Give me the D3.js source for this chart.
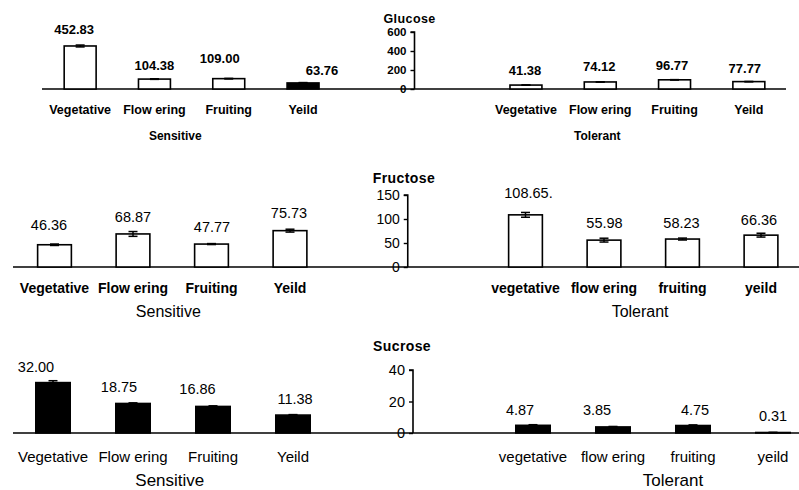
<!DOCTYPE html>
<html>
<head>
<meta charset="utf-8">
<script src="https://cdn.jsdelivr.net/npm/d3@7"></script>
<style>
  html, body { margin: 0; padding: 0; background: #fff; }
  svg { display: block; font-family: "Liberation Sans", Arial, sans-serif; }
</style>
</head>
<body>
<svg id="chart" width="799" height="490"></svg>
<script>
// ---- Data -------------------------------------------------------------
const stagesSensitive = ["Vegetative", "Flow ering", "Fruiting", "Yeild"];
const stagesTolerantCap = ["Vegetative", "Flow ering", "Fruiting", "Yeild"];
const stagesTolerantLow = ["vegetative", "flow ering", "fruiting", "yeild"];
const groupNames = ["Sensitive", "Tolerant"];

const glucoseSensitive = [452.83, 104.38, 109.00, 63.76];
const glucoseSensitiveErr = [10, 3, 3, 4];
const glucoseTolerant = [41.38, 74.12, 96.77, 77.77];
const glucoseTolerantErr = [2, 2, 2, 2];
const glucoseTicks = [0, 200, 400, 600];

const fructoseSensitive = [46.36, 68.87, 47.77, 75.73];
const fructoseSensitiveErr = [1.5, 5, 1, 3];
const fructoseTolerant = [108.65, 55.98, 58.23, 66.36];
const fructoseTolerantErr = [5, 4, 2, 4];
const fructoseTolerantSuffix = [".", "", "", ""];
const fructoseTicks = [0, 50, 100, 150];

const sucroseSensitive = [32.00, 18.75, 16.86, 11.38];
const sucroseSensitiveErr = [1.2, 0.4, 0.4, 0.3];
const sucroseTolerant = [4.87, 3.85, 4.75, 0.31];
const sucroseTolerantErr = [0.4, 0.3, 0.4, 0.1];
const sucroseTicks = [0, 20, 40];

// ---- Panel layout -----------------------------------------------------
const svg = d3.select("#chart");
const fmt = d3.format(".2f");

const panels = [
  {
    title: "Glucose", ticks: glucoseTicks,
    sens: glucoseSensitive, sensErr: glucoseSensitiveErr, sensFill: ["#fff", "#fff", "#fff", "#000"],
    tol: glucoseTolerant, tolErr: glucoseTolerantErr, tolFill: ["#fff", "#fff", "#fff", "#fff"],
    tolCats: stagesTolerantCap, tolSuffix: ["", "", "", ""],
    x0: 43, step: 74.3, yBase: 89, yTop: 32, lineStart: 42, lineEnd: 786,
    titleY: 18, titleDx: -31, catY: 109, groupY: 136, groupAt: [1.78, 7.46],
    catFont: "bold 12.5px", valFont: "bold 13px", groupFont: "bold 12px", titleFont: "bold 12.5px", tickFont: "bold 11.5px",
    sensNudge: [[-6, -16.7], [0, -13.4], [-9, -20.3], [19, -12.9]],
    tolNudge: [[-1, -14.4], [-1, -15.3], [-2.5, -14.8], [-4, -13.3]]
  },
  {
    title: "Fructose", ticks: fructoseTicks,
    sens: fructoseSensitive, sensErr: fructoseSensitiveErr, sensFill: ["#fff", "#fff", "#fff", "#fff"],
    tol: fructoseTolerant, tolErr: fructoseTolerantErr, tolFill: ["#fff", "#fff", "#fff", "#fff"],
    tolCats: stagesTolerantLow, tolSuffix: fructoseTolerantSuffix,
    x0: 15.25, step: 78.5, yBase: 267, yTop: 195, lineStart: 13, lineEnd: 799,
    titleY: 178, titleDx: -35, catY: 288, groupY: 311, groupAt: [1.95, 7.96],
    catFont: "bold 14px", valFont: "14.5px", groupFont: "16px", titleFont: "bold 14px", tickFont: "14px",
    sensNudge: [[-5.5, -19.7], [0, -17], [0.5, -17], [-1, -17.6]],
    tolNudge: [[3, -21.8], [0.5, -17.4], [-1, -16], [-2, -15]]
  },
  {
    title: "Sucrose", ticks: sucroseTicks,
    sens: sucroseSensitive, sensErr: sucroseSensitiveErr, sensFill: ["#000", "#000", "#000", "#000"],
    tol: sucroseTolerant, tolErr: sucroseTolerantErr, tolFill: ["#000", "#000", "#000", "#000"],
    tolCats: stagesTolerantLow, tolSuffix: ["", "", "", ""],
    x0: 13, step: 80, yBase: 433, yTop: 370, lineStart: 13, lineEnd: 799,
    titleY: 346, titleDx: -40, catY: 457, groupY: 480, groupAt: [1.96, 8.25],
    catFont: "15px", valFont: "14.5px", groupFont: "17px", titleFont: "bold 14px", tickFont: "14.5px",
    sensNudge: [[-17, -16], [-14, -16.8], [-15.5, -17.4], [2, -16]],
    tolNudge: [[-13, -15.3], [-16, -17], [2, -15.5], [0, -16.8]]
  }
];

function fontAttrs(sel, spec) {
  const parts = spec.split(" ");
  const size = parts.pop();
  sel.style("font-size", size).style("font-weight", parts.length ? parts[0] : "normal");
  return sel;
}

panels.forEach(p => {
  const g = svg.append("g").attr("class", "panel");
  const slots = d3.range(10);
  const x = d3.scaleBand().domain(slots).range([p.x0, p.x0 + 10 * p.step]).paddingInner(0.57).paddingOuter(0.285);
  const xc = i => x(i) + x.bandwidth() / 2;
  const y = d3.scaleLinear().domain([0, d3.max(p.ticks)]).range([p.yBase, p.yTop]);
  const axisX = p.x0 + 5 * p.step;

  // category baseline
  g.append("line")
    .attr("x1", p.lineStart).attr("x2", p.lineEnd)
    .attr("y1", y(0)).attr("y2", y(0))
    .attr("stroke", "#000").attr("stroke-width", 1.6);

  const series = [
    { vals: p.sens, err: p.sensErr, fill: p.sensFill, offset: 0, nudge: p.sensNudge, cats: stagesSensitive, suffix: ["", "", "", ""] },
    { vals: p.tol, err: p.tolErr, fill: p.tolFill, offset: 6, nudge: p.tolNudge, cats: p.tolCats, suffix: p.tolSuffix }
  ];

  series.forEach(s => {
    const items = s.vals.map((v, i) => ({ v, e: s.err[i], fill: s.fill[i], slot: s.offset + i, nudge: s.nudge[i], cat: s.cats[i], suffix: s.suffix[i] }));

    g.selectAll(null).data(items).enter().append("rect")
      .attr("x", d => x(d.slot))
      .attr("width", x.bandwidth())
      .attr("y", d => y(d.v))
      .attr("height", d => y(0) - y(d.v))
      .attr("fill", d => d.fill)
      .attr("stroke", "#000").attr("stroke-width", 1.6);

    // error bars
    const eb = g.selectAll(null).data(items).enter().append("g").attr("stroke", "#000").attr("stroke-width", 1.5);
    eb.append("line")
      .attr("x1", d => xc(d.slot)).attr("x2", d => xc(d.slot))
      .attr("y1", d => y(d.v - d.e)).attr("y2", d => y(d.v + d.e));
    eb.append("line")
      .attr("x1", d => xc(d.slot) - 4.5).attr("x2", d => xc(d.slot) + 4.5)
      .attr("y1", d => y(d.v + d.e)).attr("y2", d => y(d.v + d.e));
    eb.append("line")
      .attr("x1", d => xc(d.slot) - 4.5).attr("x2", d => xc(d.slot) + 4.5)
      .attr("y1", d => y(d.v - d.e)).attr("y2", d => y(d.v - d.e));

    // value labels
    fontAttrs(g.selectAll(null).data(items).enter().append("text")
      .attr("x", d => xc(d.slot) + d.nudge[0])
      .attr("y", d => y(d.v) + d.nudge[1])
      .attr("dy", "0.36em")
      .attr("text-anchor", "middle")
      .attr("fill", "#000")
      .text(d => fmt(d.v) + d.suffix), p.valFont);

    // stage labels
    fontAttrs(g.selectAll(null).data(items).enter().append("text")
      .attr("x", d => xc(d.slot))
      .attr("y", p.catY)
      .attr("dy", "0.36em")
      .attr("text-anchor", "middle")
      .attr("fill", "#000")
      .text(d => d.cat), p.catFont);
  });

  // group labels
  fontAttrs(g.selectAll(null).data(groupNames).enter().append("text")
    .attr("x", (d, i) => p.x0 + p.groupAt[i] * p.step)
    .attr("y", p.groupY)
    .attr("dy", "0.36em")
    .attr("text-anchor", "middle")
    .attr("fill", "#000")
    .text(d => d), p.groupFont);

  // value axis between the two groups
  const axis = g.append("g")
    .attr("transform", `translate(${axisX},0)`)
    .call(d3.axisLeft(y).tickValues(p.ticks).tickSize(4).tickPadding(4).tickFormat(d3.format("d")));
  axis.select(".domain").attr("stroke", "#000").attr("stroke-width", 1.6)
    .attr("d", `M-4,${y(d3.max(p.ticks))}H0V${y(0)}`);
  axis.selectAll(".tick line").attr("stroke", "#000").attr("stroke-width", 1.4);
  fontAttrs(axis.selectAll(".tick text").attr("fill", "#000").style("font-family", "'Liberation Sans', Arial, sans-serif"), p.tickFont);

  // panel title
  fontAttrs(g.append("text")
    .attr("x", axisX + p.titleDx)
    .attr("y", p.titleY)
    .attr("dy", "0.36em")
    .attr("fill", "#000")
    .style("letter-spacing", "0.4px")
    .text(p.title), p.titleFont);
});
</script>
</body>
</html>
